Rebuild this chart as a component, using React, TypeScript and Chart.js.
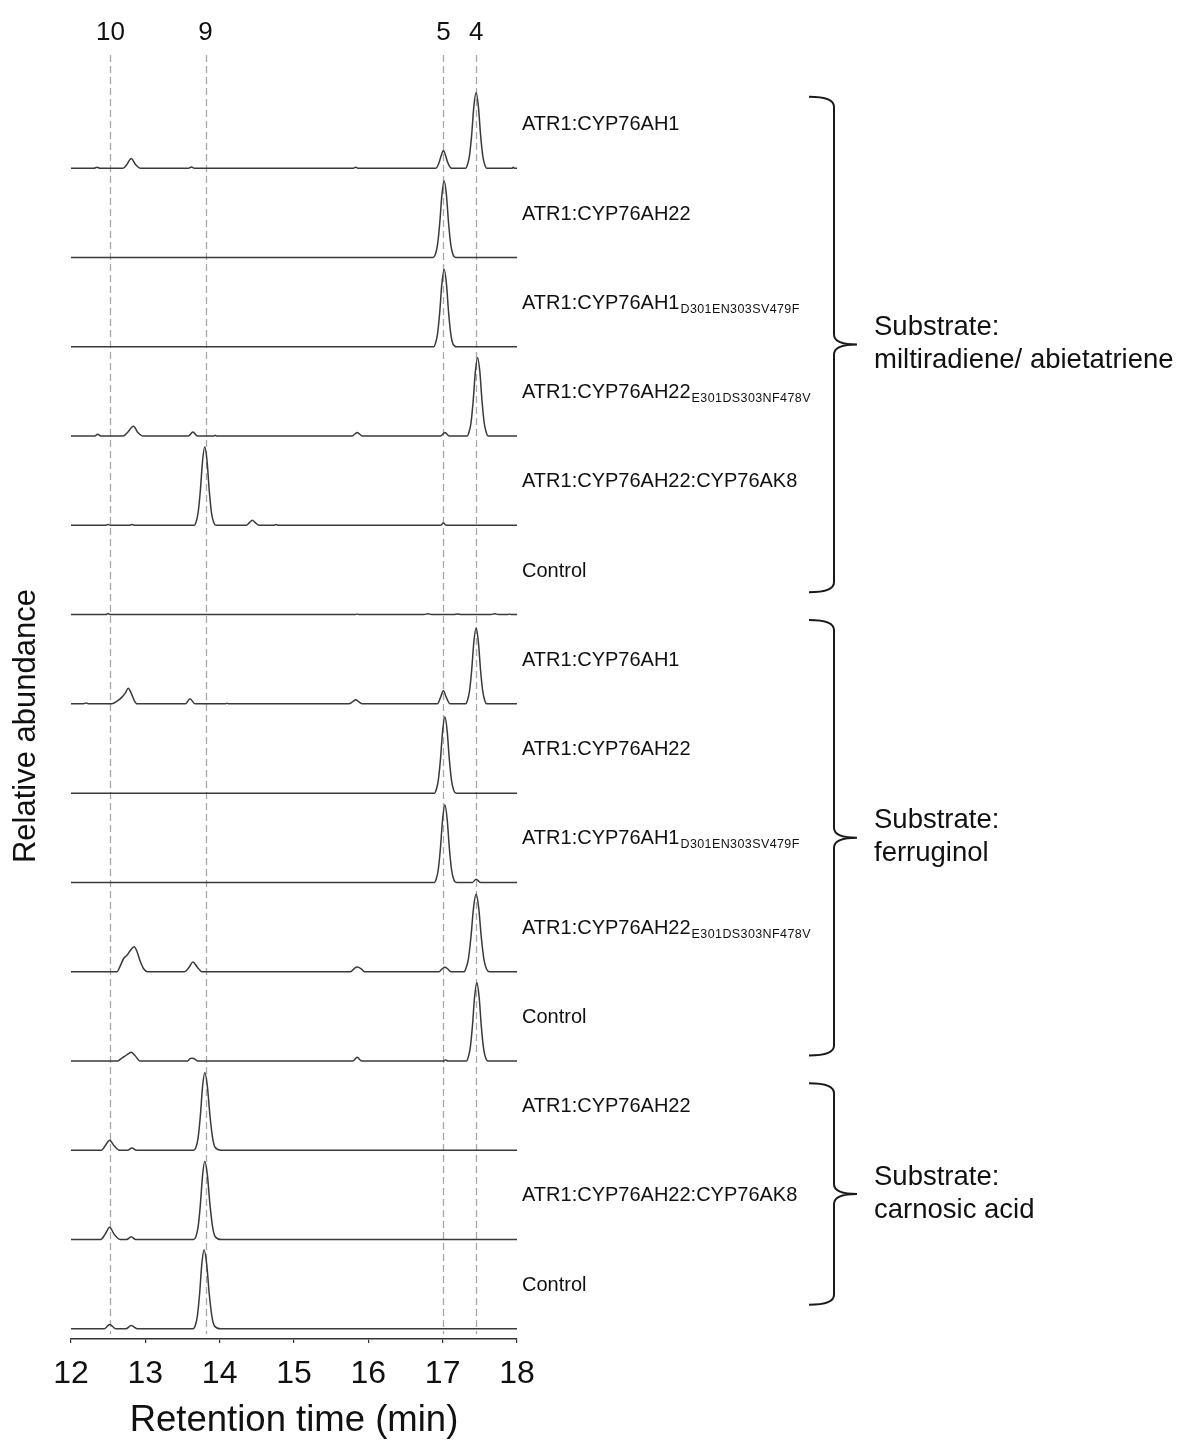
import React, { useEffect, useRef } from "react";
import { Chart, registerables } from "chart.js";

Chart.register(...registerables);

const FONT = '"Liberation Sans", Arial, Helvetica, sans-serif';

// ---- data -------------------------------------------------------------
const xTicks = [12, 13, 14, 15, 16, 17, 18];
const markerTimes = [12.53, 13.81, 17.01, 17.45];
const markerLabels = ["10", "9", "5", "4"];

const sampleNames = [
  "ATR1:CYP76AH1",
  "ATR1:CYP76AH22",
  "ATR1:CYP76AH1",
  "ATR1:CYP76AH22",
  "ATR1:CYP76AH22:CYP76AK8",
  "Control",
  "ATR1:CYP76AH1",
  "ATR1:CYP76AH22",
  "ATR1:CYP76AH1",
  "ATR1:CYP76AH22",
  "Control",
  "ATR1:CYP76AH22",
  "ATR1:CYP76AH22:CYP76AK8",
  "Control",
];
const sampleSubscripts = [
  "", "", "D301EN303SV479F", "E301DS303NF478V", "", "",
  "", "", "D301EN303SV479F", "E301DS303NF478V", "",
  "", "", "",
];

const substrateNames = ["miltiradiene/ abietatriene", "ferruginol", "carnosic acid"];
const substrateMembers = [[0, 5], [6, 10], [11, 13]];

const trace01 = [[12,0],[12.31,0],[12.35,0.012],[12.39,0],[12.70,0],[12.75,0.04],[12.81,0.11],[12.87,0.04],[12.93,0],[13.58,0],[13.62,0.015],[13.66,0],[15.79,0],[15.83,0.01],[15.87,0],[16.91,0],[16.95,0.06],[16.98,0.14],[17.01,0.2],[17.04,0.14],[17.07,0.06],[17.12,0],[17.31,0],[17.33,0.03],[17.36,0.136],[17.39,0.374],[17.42,0.697],[17.45,0.85],[17.48,0.697],[17.51,0.374],[17.54,0.136],[17.57,0.03],[17.59,0],[17.93,0],[17.95,0.01],[17.97,0],[18,0]];
const trace02 = [[12,0],[16.87,0],[16.90,0.03],[16.93,0.138],[16.96,0.378],[16.99,0.705],[17.02,0.86],[17.05,0.705],[17.08,0.378],[17.11,0.138],[17.14,0.03],[17.18,0],[18,0]];
const trace03 = [[12,0],[16.88,0],[16.90,0.03],[16.93,0.139],[16.96,0.383],[16.99,0.713],[17.02,0.87],[17.05,0.713],[17.08,0.383],[17.11,0.139],[17.14,0.03],[17.19,0],[18,0]];
const trace04 = [[12,0],[12.32,0],[12.36,0.02],[12.40,0],[12.70,0],[12.76,0.04],[12.84,0.11],[12.90,0.04],[12.97,0],[13.58,0],[13.64,0.045],[13.70,0],[13.92,0],[13.94,0.008],[13.96,0],[15.78,0],[15.85,0.04],[15.92,0],[16.97,0],[17.03,0.04],[17.09,0],[17.33,0],[17.35,0.031],[17.38,0.141],[17.41,0.387],[17.44,0.722],[17.47,0.88],[17.50,0.722],[17.53,0.387],[17.56,0.141],[17.59,0.031],[17.61,0],[18,0]];
const trace05 = [[12,0],[12.46,0],[12.5,0.01],[12.54,0],[12.78,0],[12.82,0.008],[12.86,0],[13.66,0],[13.68,0.031],[13.71,0.141],[13.74,0.387],[13.77,0.722],[13.80,0.88],[13.83,0.722],[13.86,0.387],[13.89,0.141],[13.92,0.031],[13.95,0],[14.36,0],[14.40,0.03],[14.44,0.056],[14.48,0.03],[14.53,0],[14.73,0],[14.76,0.01],[14.79,0],[16.97,0],[17.01,0.025],[17.05,0],[18,0]];
const trace06 = [[12,0],[12.47,0],[12.5,0.012],[12.53,0],[15.83,0],[15.85,0.008],[15.87,0],[16.75,0],[16.8,0.01],[16.85,0],[17.15,0],[17.2,0.008],[17.25,0],[17.65,0],[17.7,0.01],[17.75,0],[17.88,0],[17.9,0.008],[17.92,0],[18,0]];
const trace07 = [[12,0],[12.16,0],[12.2,0.01],[12.24,0],[12.55,0],[12.62,0.03],[12.68,0.07],[12.73,0.12],[12.77,0.175],[12.81,0.12],[12.85,0.04],[12.89,0],[13.54,0],[13.60,0.056],[13.67,0],[14.08,0],[14.1,0.008],[14.12,0],[15.74,0],[15.79,0.025],[15.83,0.045],[15.87,0.025],[15.92,0],[16.93,0],[16.97,0.07],[17.01,0.146],[17.05,0.07],[17.10,0],[17.31,0],[17.33,0.03],[17.36,0.136],[17.39,0.374],[17.42,0.697],[17.45,0.85],[17.48,0.697],[17.51,0.374],[17.54,0.136],[17.57,0.03],[17.59,0],[18,0]];
const trace08 = [[12,0],[16.89,0],[16.91,0.03],[16.94,0.137],[16.97,0.376],[17.00,0.701],[17.03,0.855],[17.06,0.701],[17.09,0.376],[17.12,0.137],[17.15,0.03],[17.18,0],[18,0]];
const trace09 = [[12,0],[16.89,0],[16.91,0.03],[16.94,0.139],[16.97,0.383],[17.00,0.713],[17.03,0.87],[17.06,0.713],[17.09,0.383],[17.12,0.139],[17.15,0.03],[17.19,0],[17.40,0],[17.45,0.034],[17.51,0],[18,0]];
const trace10 = [[12,0],[12.62,0],[12.66,0.06],[12.71,0.15],[12.75,0.18],[12.80,0.24],[12.85,0.28],[12.89,0.22],[12.93,0.12],[12.98,0.03],[13.03,0],[13.53,0],[13.59,0.05],[13.64,0.108],[13.70,0.05],[13.76,0],[15.76,0],[15.81,0.035],[15.85,0.052],[15.90,0.035],[15.95,0],[16.95,0],[16.99,0.03],[17.03,0.05],[17.07,0.03],[17.11,0],[17.29,0],[17.31,0.03],[17.345,0.139],[17.38,0.383],[17.415,0.713],[17.45,0.87],[17.485,0.713],[17.52,0.383],[17.555,0.139],[17.59,0.03],[17.63,0],[18,0]];
const trace11 = [[12,0],[12.63,0],[12.68,0.03],[12.72,0.05],[12.77,0.08],[12.81,0.097],[12.86,0.06],[12.93,0],[13.57,0],[13.60,0.025],[13.63,0.03],[13.66,0.025],[13.70,0],[15.79,0],[15.85,0.04],[15.91,0],[17.01,0],[17.04,0.01],[17.07,0],[17.32,0],[17.34,0.031],[17.37,0.141],[17.40,0.387],[17.43,0.722],[17.46,0.88],[17.49,0.722],[17.52,0.387],[17.55,0.141],[17.58,0.031],[17.61,0],[18,0]];
const trace12 = [[12,0],[12.41,0],[12.46,0.05],[12.52,0.112],[12.58,0.05],[12.65,0],[12.76,0],[12.82,0.026],[12.88,0],[13.65,0],[13.68,0.03],[13.71,0.139],[13.74,0.383],[13.77,0.713],[13.80,0.87],[13.835,0.713],[13.87,0.383],[13.905,0.139],[13.94,0.03],[14.02,0],[18,0]];
const trace13 = [[12,0],[12.40,0],[12.46,0.06],[12.52,0.138],[12.58,0.06],[12.66,0],[12.75,0],[12.81,0.03],[12.87,0],[13.65,0],[13.68,0.031],[13.71,0.14],[13.74,0.385],[13.77,0.718],[13.80,0.875],[13.835,0.718],[13.87,0.385],[13.905,0.14],[13.94,0.031],[14.02,0],[18,0]];
const trace14 = [[12,0],[12.45,0],[12.52,0.048],[12.60,0],[12.74,0],[12.81,0.037],[12.89,0],[13.64,0],[13.67,0.031],[13.70,0.142],[13.73,0.389],[13.76,0.726],[13.79,0.885],[13.825,0.726],[13.86,0.389],[13.895,0.142],[13.93,0.031],[14.01,0],[18,0]];

const traces = [trace01, trace02, trace03, trace04, trace05, trace06, trace07, trace08, trace09, trace10, trace11, trace12, trace13, trace14];

// ---- drawing helpers --------------------------------------------------
const overlayPlugin = {
  id: "overlay",
  beforeDatasetsDraw(chart: any) {
    const { ctx, chartArea } = chart;
    const x = chart.scales.x;
    ctx.save();
    ctx.strokeStyle = "#a8a8a8";
    ctx.lineWidth = 1.3;
    ctx.setLineDash([7, 4]);
    markerTimes.forEach((t) => {
      const px = Math.round(x.getPixelForValue(t)) + 0.5;
      ctx.beginPath();
      ctx.moveTo(px, 55);
      ctx.lineTo(px, chartArea.bottom - 5);
      ctx.stroke();
    });
    ctx.restore();
  },
  afterDraw(chart: any) {
    const { ctx } = chart;
    const x = chart.scales.x;
    const y = chart.scales.y;
    const n = traces.length;
    ctx.save();
    ctx.fillStyle = "#111";

    // compound markers
    ctx.font = `26px ${FONT}`;
    ctx.textAlign = "center";
    ctx.textBaseline = "middle";
    markerTimes.forEach((t, i) => {
      ctx.fillText(markerLabels[i], x.getPixelForValue(t), 33);
    });

    // y title
    ctx.save();
    ctx.translate(26, 726);
    ctx.rotate(-Math.PI / 2);
    ctx.font = `31px ${FONT}`;
    ctx.fillText("Relative abundance", 0, 0);
    ctx.restore();

    // sample labels
    ctx.textAlign = "left";
    ctx.textBaseline = "alphabetic";
    sampleNames.forEach((name, i) => {
      const base = y.getPixelForValue(n - 1 - i);
      const ty = base - 45 + 7;
      ctx.font = `20px ${FONT}`;
      ctx.fillText(name, 522, ty);
      const sub = sampleSubscripts[i];
      if (sub) {
        const w = ctx.measureText(name).width;
        ctx.font = `12.5px ${FONT}`;
        (ctx as any).letterSpacing = "0.4px";
        ctx.fillText(sub, 522 + w + 1, ty + 4);
        (ctx as any).letterSpacing = "0px";
      }
    });

    // brackets and substrate names
    ctx.strokeStyle = "#1a1a1a";
    ctx.lineWidth = 2;
    const insets = [[0.2, 0.25], [0.06, 0.06], [0.25, 0.27]];
    const unit = y.getPixelForValue(0) - y.getPixelForValue(1);
    substrateMembers.forEach(([a, b], g) => {
      const top = y.getPixelForValue(n - a) + insets[g][0] * unit;
      const bottom = y.getPixelForValue(n - 1 - b) - insets[g][1] * unit;
      const mid = (top + bottom) / 2;
      const xv = 834, xl = 809, xt = 857, r = 10;
      ctx.beginPath();
      ctx.moveTo(xl, top);
      ctx.quadraticCurveTo(xv, top, xv, top + r);
      ctx.lineTo(xv, mid - r);
      ctx.quadraticCurveTo(xv, mid, xt, mid);
      ctx.moveTo(xt, mid);
      ctx.quadraticCurveTo(xv, mid, xv, mid + r);
      ctx.lineTo(xv, bottom - r);
      ctx.quadraticCurveTo(xv, bottom, xl, bottom);
      ctx.stroke();

      ctx.font = `27.5px ${FONT}`;
      ctx.textBaseline = "middle";
      ctx.fillText("Substrate:", 874, mid - 17);
      ctx.fillText(substrateNames[g], 874, mid + 16);
    });
    ctx.restore();
  },
};

export default function App() {
  const ref = useRef<HTMLCanvasElement | null>(null);

  useEffect(() => {
    if (!ref.current) return;
    const n = traces.length;
    const datasets = traces.map((tr, i) => ({
      data: tr.map(([t, v]) => ({ x: t, y: v + (n - 1 - i) })),
      borderColor: "#3a3a3a",
      borderWidth: 1.5,
      pointRadius: 0,
      fill: false,
      cubicInterpolationMode: "monotone" as const,
    }));

    const chart = new Chart(ref.current, {
      type: "line",
      data: { datasets },
      options: {
        animation: false,
        responsive: false,
        devicePixelRatio: 1,
        events: [],
        layout: { padding: { left: 71, right: 665, top: 79, bottom: 0 } },
        plugins: { legend: { display: false }, tooltip: { enabled: false } },
        scales: {
          x: {
            type: "linear",
            min: 12,
            max: 18,
            afterBuildTicks: (s: any) => {
              s.ticks = xTicks.map((v) => ({ value: v }));
            },
            ticks: {
              font: { family: FONT, size: 32, lineHeight: 1 },
              color: "#111",
              padding: 15,
              maxRotation: 0,
              autoSkip: false,
            },
            grid: {
              display: true,
              drawOnChartArea: false,
              drawTicks: true,
              tickLength: 4,
              color: "#333",
              lineWidth: 1.2,
            },
            border: { display: true, color: "#333", width: 1.5 },
            title: {
              display: true,
              text: "Retention time (min)",
              font: { family: FONT, size: 36.5, lineHeight: 1 },
              color: "#111",
              padding: { top: -2, bottom: 1.5 },
            },
          },
          y: { type: "linear", display: false, min: -0.115, max: 14 },
        },
      },
      plugins: [overlayPlugin],
    });
    return () => chart.destroy();
  }, []);

  return (
    <div style={{ position: "absolute", left: 0, top: 0, width: 1182, height: 1441, background: "#fff" }}>
      <canvas ref={ref} width={1182} height={1441} style={{ display: "block" }} />
    </div>
  );
}
